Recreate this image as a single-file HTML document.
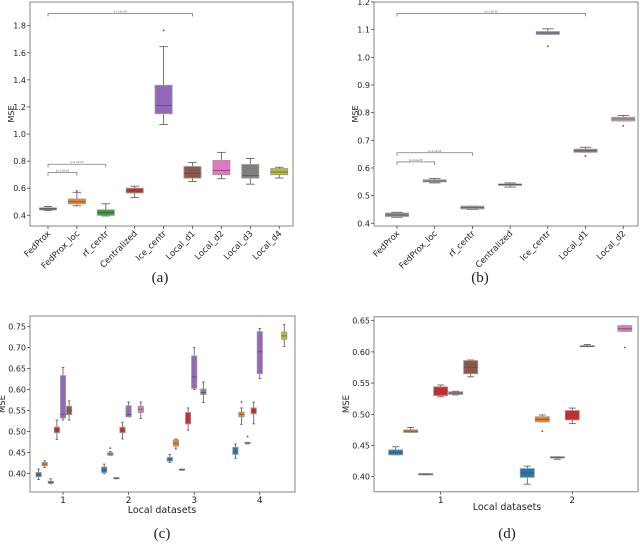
<!DOCTYPE html>
<html><head><meta charset="utf-8"><style>
body{margin:0;background:#fff;}
svg{display:block;font-family:"DejaVu Sans","Liberation Sans",sans-serif;}
</style></head><body>
<svg id="fig" width="640" height="545" viewBox="0 0 640 545" xmlns="http://www.w3.org/2000/svg"></svg>
<script>
// ---------- Panel (a) data ----------
const aCats = ["FedProx","FedProx_loc","rf_centr","Centralized","lce_centr","Local_d1","Local_d2","Local_d3","Local_d4"];
const aQ1 = [0.440,0.485,0.400,0.565,1.150,0.675,0.700,0.675,0.700];
const aMed = [0.448,0.500,0.420,0.580,1.210,0.710,0.730,0.695,0.720];
const aQ3 = [0.455,0.520,0.440,0.600,1.360,0.760,0.805,0.775,0.745];
const aLo = [0.435,0.470,0.395,0.530,1.070,0.650,0.670,0.630,0.675];
const aHi = [0.465,0.570,0.485,0.615,1.645,0.790,0.865,0.820,0.755];
const aOut = [null,0.580,null,null,1.765,null,null,null,null];
const aTicks = [0.4,0.6,0.8,1.0,1.2,1.4,1.6,1.8];
// ---------- Panel (b) data ----------
const bCats = ["FedProx","FedProx_loc","rf_centr","Centralized","lce_centr","Local_d1","Local_d2"];
const bQ1 = [0.425,0.550,0.452,0.537,1.083,0.657,0.770];
const bMed = [0.430,0.553,0.457,0.540,1.088,0.662,0.777];
const bQ3 = [0.437,0.557,0.462,0.542,1.093,0.668,0.783];
const bLo = [0.422,0.546,0.450,0.531,1.083,0.657,0.770];
const bHi = [0.440,0.562,0.462,0.546,1.103,0.675,0.790];
const bOut = [null,null,null,null,1.040,0.643,0.752];
const bTicks = [0.4,0.5,0.6,0.7,0.8,0.9,1.0,1.1,1.2];
// ---------- Panel (c) data ----------
const cGroups = ["1","2","3","4"];
const cGroup = [0,0,0,0,0,0, 1,1,1,1,1,1, 2,2,2,2,2,2, 3,3,3,3,3,3];
const cSlot = [-4,-3,-2,-1,0,1, -4,-3,-2,-1,0,2, -4,-3,-2,-1,0,1.5, -4,-3,-2,-1,0,4];
const cHue = [0,1,2,3,4,5, 0,1,7,3,4,6, 0,1,7,3,4,7, 0,1,7,3,4,8];
const cQ1 = [.392,.418,.376,.497,.532,.540, .402,.443,.387,.497,.535,.545, .429,.465,.407,.518,.603,.588, .445,.535,.471,.542,.638,.720];
const cMed = [.396,.422,.378,.503,.541,.550, .408,.446,.388,.503,.540,.553, .433,.472,.409,.530,.630,.593, .452,.541,.472,.549,.690,.728];
const cQ3 = [.402,.426,.381,.510,.633,.560, .415,.449,.390,.510,.561,.560, .438,.480,.410,.545,.680,.601, .462,.546,.474,.556,.738,.737];
const cLo = [.385,.414,.375,.481,.527,.527, .399,.443,.387,.482,.535,.531, .426,.458,.407,.503,.600,.569, .436,.517,.470,.518,.626,.703];
const cHi = [.410,.430,.387,.527,.653,.573, .422,.452,.390,.522,.570,.570, .445,.482,.410,.556,.700,.618, .470,.556,.474,.570,.746,.755];
const cOut = [null,null,null,null,null,null, null,.460,null,null,null,null, null,null,null,null,null,null, null,.570,.488,null,null,null];
const cTicks = [0.40,0.45,0.50,0.55,0.60,0.65,0.70,0.75];
// ---------- Panel (d) data ----------
const dGroups = ["1","2"];
const dGroup = [0,0,0,0,0,0, 1,1,1,1,1,1];
const dSlot = [-3,-2,-1,0,1,2, -3,-2,-1,0,1,3.5];
const dHue = [0,1,7,3,4,5, 0,1,7,3,7,6];
const dQ1 = [.435,.471,.403,.530,.532,.565, .399,.488,.430,.491,.609,.633];
const dMed = [.439,.473,.404,.537,.534,.575, .406,.492,.431,.499,.609,.637];
const dQ3 = [.443,.475,.405,.544,.536,.586, .413,.496,.432,.506,.610,.642];
const dLo = [.435,.471,.403,.528,.531,.560, .388,.488,.428,.485,.609,.633];
const dHi = [.448,.479,.405,.547,.537,.587, .417,.499,.432,.510,.612,.642];
const dOut = [null,null,null,null,null,null, null,.473,null,null,null,.607];
const dTicks = [0.40,0.45,0.50,0.55,0.60,0.65];

const palette = ["#1f77b4","#ff7f0e","#2ca02c","#d62728","#9467bd","#8c564b","#e377c2","#7f7f7f","#bcbd22"];
const aColors = ["#555555","#ff7f0e","#2ca02c","#d62728","#9467bd","#8c564b","#e377c2","#7f7f7f","#bcbd22"];
const bColors = ["#8a8a8a","#9a9a9a","#9a9a9a","#9a9a9a","#8f7fb0","#9a7d75","#c9a0c0"];

const svg = document.getElementById('fig');
const NS = "http://www.w3.org/2000/svg";
function mk(tag, attrs, parent){
  const e = document.createElementNS(NS, tag);
  for (const k in attrs) e.setAttribute(k, attrs[k]);
  (parent||svg).appendChild(e);
  return e;
}
function linY(v0,v1,p0,p1){return v=>p0+(v-v0)*(p1-p0)/(v1-v0);}

function frame(x0,y0,x1,y1,name){
  const r = mk('rect',{x:x0,y:y0,width:x1-x0,height:y1-y0,fill:'none',stroke:'#999',"stroke-width":1.2});
  
  
}
function yAxis(ticks, y, x0, fmt, name){
  const g = mk('g',{});
  
  
  ticks.forEach(t=>{
    mk('line',{x1:x0-3,x2:x0,y1:y(t),y2:y(t),stroke:'#333',"stroke-width":0.7},g);
    const tx = mk('text',{x:x0-4,y:y(t)+3,"font-size":8,"text-anchor":"end",fill:'#222'},g);
    tx.textContent = t.toFixed(fmt);
    
    
  });
}
function box(cx,w,y,q1,med,q3,lo,hi,out,color,name){
  const g = mk('g',{});
  
  
  const wc='#555';
  mk('line',{x1:cx,x2:cx,y1:y(hi),y2:y(q3),stroke:wc,"stroke-width":0.8},g);
  mk('line',{x1:cx,x2:cx,y1:y(q1),y2:y(lo),stroke:wc,"stroke-width":0.8},g);
  mk('line',{x1:cx-w/4,x2:cx+w/4,y1:y(hi),y2:y(hi),stroke:wc,"stroke-width":0.8},g);
  mk('line',{x1:cx-w/4,x2:cx+w/4,y1:y(lo),y2:y(lo),stroke:wc,"stroke-width":0.8},g);
  mk('rect',{x:cx-w/2,y:y(q3),width:w,height:Math.max(1,y(q1)-y(q3)),fill:color,stroke:'#999',"stroke-width":0.9},g);
  mk('line',{x1:cx-w/2,x2:cx+w/2,y1:y(med),y2:y(med),stroke:'#555',"stroke-width":0.8},g);
  if(out!==null) mk('circle',{cx:cx,cy:y(out),r:0.9,fill:'#555'},g);
}
function bracket(xa,xb,yy,name){
  const g = mk('g',{});
  
  
  mk('path',{d:`M${xa},${yy+3}V${yy}H${xb}V${yy+3}`,fill:'none',stroke:'#777',"stroke-width":0.8},g);
  const t = mk('text',{x:(xa+xb)/2,y:yy-1,"font-size":2.5,"text-anchor":"middle",fill:'#555'},g);
  t.textContent = "p<1.0e-03";
}
function text(x,y,s,size,anchor,name,extra){
  const t = mk('text',Object.assign({x:x,y:y,"font-size":size,"text-anchor":anchor,fill:'#222'},extra||{}));
  t.textContent = s;
  
  
  return t;
}

// ===== Panel a =====
(function(){
  const y = linY(0.4,1.8,215.3,25.7);
  const cx = i=>48+i*28.9;
  frame(30,2,293,226,'panel-a-frame');
  yAxis(aTicks,y,30,1,'panel-a-y-axis');
  aCats.forEach((c,i)=>{
    box(cx(i),17,y,aQ1[i],aMed[i],aQ3[i],aLo[i],aHi[i],aOut[i],aColors[i],'box-'+c);
    mk('line',{x1:cx(i),x2:cx(i),y1:226,y2:229,stroke:'#333',"stroke-width":0.7});
    text(cx(i)+3,234,c,8.5,'end','x-tick-label',{transform:`rotate(-45 ${cx(i)+3} 234)`});
  });
  bracket(cx(0),cx(5),y(1.89),'significance-bracket');
  bracket(cx(0),cx(2),y(0.777),'significance-bracket');
  bracket(cx(0),cx(1),y(0.715),'significance-bracket');
  text(14,114,'MSE',8,'middle','y-axis-title',{transform:'rotate(-90 14 114)'});
  text(160,282,'(a)',15,'middle','caption-a',{"font-family":'"Liberation Serif",serif'});
})();
// ===== Panel b =====
(function(){
  const y = linY(0.4,1.2,223.3,2);
  const cx = i=>397+i*37.7;
  frame(374,2,638,226,'panel-b-frame');
  yAxis(bTicks,y,374,1,'panel-b-y-axis');
  bCats.forEach((c,i)=>{
    box(cx(i),23,y,bQ1[i],bMed[i],bQ3[i],bLo[i],bHi[i],bOut[i],bColors[i],'box-'+c);
    mk('line',{x1:cx(i),x2:cx(i),y1:226,y2:229,stroke:'#333',"stroke-width":0.7});
    text(cx(i)+3,234,c,8.5,'end','x-tick-label',{transform:`rotate(-45 ${cx(i)+3} 234)`});
  });
  bracket(cx(0),cx(5),y(1.159),'significance-bracket');
  bracket(cx(0),cx(2),y(0.655),'significance-bracket');
  bracket(cx(0),cx(1),y(0.622),'significance-bracket');
  text(358,114,'MSE',8,'middle','y-axis-title',{transform:'rotate(-90 358 114)'});
  text(480,282,'(b)',15,'middle','caption-b',{"font-family":'"Liberation Serif",serif'});
})();
// ===== Panel c =====
(function(){
  const y = linY(0.40,0.75,473.3,326.7);
  const gx = g=>63+g*65.6;
  frame(30,316,295,492,'panel-c-frame');
  yAxis(cTicks,y,30,2,'panel-c-y-axis');
  cGroups.forEach((g,i)=>{
    mk('line',{x1:gx(i),x2:gx(i),y1:492,y2:495,stroke:'#333',"stroke-width":0.7});
    text(gx(i),503,g,9,'middle','x-tick-label');
  });
  cQ1.forEach((q,i)=>{
    box(gx(cGroup[i])+cSlot[i]*6.1,5.2,y,cQ1[i],cMed[i],cQ3[i],cLo[i],cHi[i],cOut[i],palette[cHue[i]],'box');
  });
  text(162,513,'Local datasets',9.5,'middle','x-axis-title');
  text(5,404,'MSE',8.5,'middle','y-axis-title',{transform:'rotate(-90 5 404)'});
  text(162,538,'(c)',15,'middle','caption-c',{"font-family":'"Liberation Serif",serif'});
})();
// ===== Panel d =====
(function(){
  const y = linY(0.40,0.65,476.7,320.7);
  const gx = g=>440.7+g*131.6;
  frame(374,316.7,638,491.7,'panel-d-frame');
  yAxis(dTicks,y,374,2,'panel-d-y-axis');
  dGroups.forEach((g,i)=>{
    mk('line',{x1:gx(i),x2:gx(i),y1:491.7,y2:494.7,stroke:'#333',"stroke-width":0.7});
    text(gx(i),503,g,9,'middle','x-tick-label');
  });
  dQ1.forEach((q,i)=>{
    box(gx(dGroup[i])+dSlot[i]*15,14,y,dQ1[i],dMed[i],dQ3[i],dLo[i],dHi[i],dOut[i],palette[dHue[i]],'box');
  });
  text(507,510,'Local datasets',9.5,'middle','x-axis-title');
  text(349,404,'MSE',8.5,'middle','y-axis-title',{transform:'rotate(-90 349 404)'});
  text(507,538,'(d)',15,'middle','caption-d',{"font-family":'"Liberation Serif",serif'});
})();
</script>
</body></html>
